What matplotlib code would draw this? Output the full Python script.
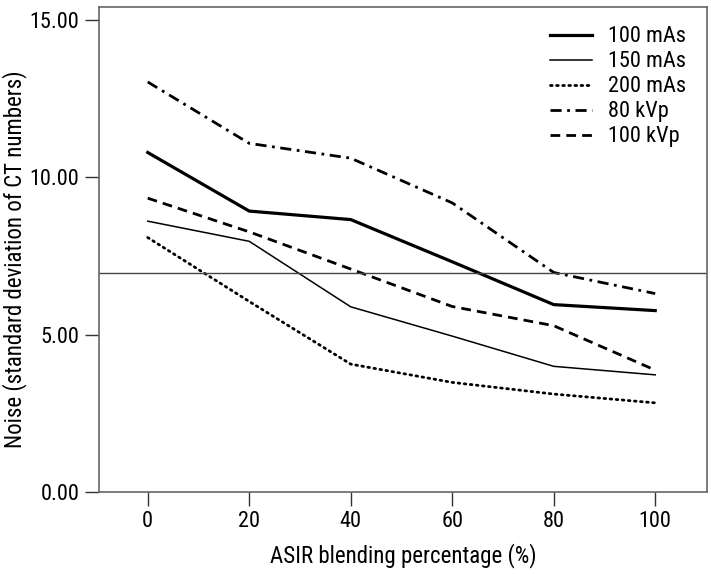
import matplotlib
matplotlib.use("Agg")
import matplotlib.pyplot as plt
from matplotlib import font_manager

names = {f.name for f in font_manager.fontManager.ttflist}
fam = [n for n in ["Liberation Sans Narrow", "Roboto Condensed", "Liberation Sans"] if n in names] + ["DejaVu Sans"]
plt.rcParams['font.family'] = fam

asir = [0, 20, 40, 60, 80, 100]
mas100 = [10.78, 8.92, 8.65, 7.31, 5.95, 5.76]
mas150 = [8.60, 7.96, 5.88, 4.95, 3.99, 3.72]
mas200 = [8.08, 6.05, 4.06, 3.48, 3.11, 2.83]
kvp80 = [13.02, 11.07, 10.60, 9.18, 6.97, 6.30]
kvp100 = [9.33, 8.26, 7.08, 5.89, 5.28, 3.87]
ref_line = 6.95
yticks = [0, 5, 10, 15]
ytick_labels = ["0.00", "5.00", "10.00", "15.00"]

fig = plt.figure(figsize=(7.11, 5.74), dpi=100)
ax = fig.add_axes([99/711, 1-492/574, 608/711, 485/574])

ax.plot(asir, mas100, color='black', lw=2.3, ls='-', label='100 mAs')
ax.plot(asir, mas150, color='black', lw=1.1, ls='-', label='150 mAs')
ax.plot(asir, mas200, color='black', lw=2.0, ls=(0, (0.6, 1.6)), dash_capstyle='round', label='200 mAs')
ax.plot(asir, kvp80, color='black', lw=2.0, ls=(0, (4, 2, 1, 2)), label='80 kVp')
ax.plot(asir, kvp100, color='black', lw=2.0, ls=(0, (3.5, 2.2)), label='100 kVp')
ax.axhline(ref_line, color='#444444', lw=1.0)

ax.set_xlim(-9.6, 110.2)
ax.set_ylim(0, 15.4)
ax.set_xticks(asir)
ax.set_xticklabels([str(a) for a in asir])
ax.set_yticks(yticks)
ax.set_yticklabels(ytick_labels)
ax.tick_params(direction='out', length=10, width=1, colors='#333333', labelcolor='black', labelsize=16, pad=4)
for s in ax.spines.values():
    s.set_color('#666666')
    s.set_linewidth(1.2)

ax.set_xlabel("ASIR blending percentage (%)", fontsize=16.5, labelpad=8)
ax.set_ylabel("Noise (standard deviation of CT numbers)", fontsize=16.5)
ax.yaxis.set_label_coords(-0.118, 0.48)

leg = ax.legend(loc='upper right', frameon=False, fontsize=16, handlelength=1.9,
                handletextpad=0.7, labelspacing=0.18, borderpad=0, borderaxespad=0,
                bbox_to_anchor=(0.965, 0.96))

fig.savefig("out.png", dpi=100)
